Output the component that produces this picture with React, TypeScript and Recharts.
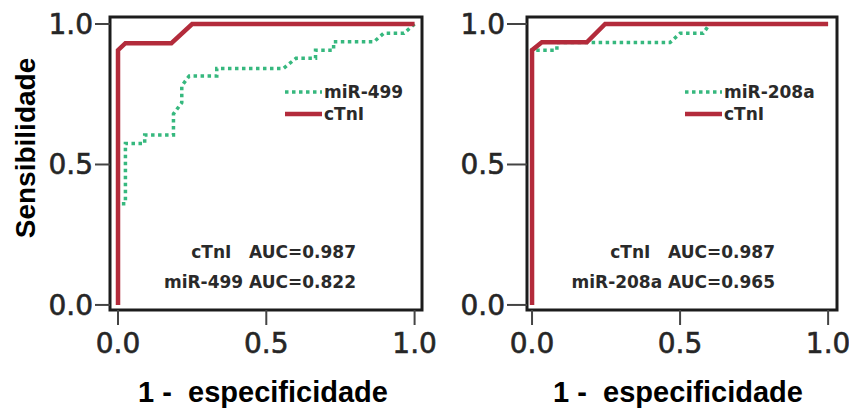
import React from "react";
import { LineChart, Line, XAxis, YAxis, ReferenceArea } from "recharts";

// ---- data ----
const tickValues = [0, 0.5, 1];

const leftCtniFpr = [0, 0, 0.025, 0.18, 0.25, 1];
const leftCtniTpr = [0, 0.907, 0.932, 0.932, 1, 1];

const mir499Fpr = [0, 0, 0.025, 0.025, 0.09, 0.09, 0.187, 0.187, 0.215, 0.215, 0.24, 0.333, 0.333, 0.558, 0.6, 0.666, 0.666, 0.727, 0.727, 0.863, 0.896, 0.964, 1];
const mir499Tpr = [0, 0.36, 0.36, 0.575, 0.575, 0.605, 0.605, 0.68, 0.72, 0.78, 0.815, 0.815, 0.842, 0.842, 0.878, 0.878, 0.907, 0.907, 0.937, 0.937, 0.967, 0.967, 1];

const rightCtniFpr = [0, 0, 0.033, 0.185, 0.247, 1];
const rightCtniTpr = [0, 0.907, 0.935, 0.935, 1, 1];

const mir208aFpr = [0, 0, 0.084, 0.084, 0.466, 0.5, 0.578, 0.6, 1];
const mir208aTpr = [0, 0.907, 0.907, 0.934, 0.934, 0.967, 0.967, 1, 1];

const leftAucLines = ["cTnI   AUC=0.987", "miR-499 AUC=0.822"];
const rightAucLines = ["cTnI   AUC=0.987", "miR-208a AUC=0.965"];

const toPoints = (xs: number[], ys: number[]) => xs.map((x, i) => ({ x, y: ys[i] }));

const RED = "#b32b3b";
const GREEN = "#36b87e";
const FONT_TICK = "'DejaVu Sans', Verdana, sans-serif";
const FONT_LABEL = "'Liberation Sans', Arial, Helvetica, sans-serif";

type PanelProps = {
  left: number;
  width: number;
  yAxisWidth: number;
  marginRight: number;
  xDomain: [number, number];
  yDomain: [number, number];
  yTickSize: number;
  mirData: { x: number; y: number }[];
  ctniData: { x: number; y: number }[];
};

function RocPanel(p: PanelProps) {
  const tickStyle = {
    fontSize: 28,
    fontFamily: FONT_TICK,
    fill: "#262626",
    stroke: "#262626",
    strokeWidth: 0.6,
  };
  return (
    <div style={{ position: "absolute", left: p.left, top: 0 }}>
      <LineChart
        width={p.width}
        height={410}
        margin={{ top: 17, right: p.marginRight, bottom: 40, left: 0 }}
      >
        <XAxis
          type="number"
          dataKey="x"
          domain={p.xDomain}
          allowDataOverflow
          ticks={tickValues}
          interval={0}
          tickFormatter={(v: number) => v.toFixed(1)}
          axisLine={false}
          tickLine={{ stroke: "#444", strokeWidth: 2 }}
          tickSize={15}
          tickMargin={8}
          height={60}
          tick={tickStyle}
        />
        <YAxis
          type="number"
          domain={p.yDomain}
          allowDataOverflow
          ticks={tickValues}
          interval={0}
          tickFormatter={(v: number) => v.toFixed(1)}
          axisLine={false}
          tickLine={{ stroke: "#444", strokeWidth: 2 }}
          tickSize={p.yTickSize}
          tickMargin={2}
          width={p.yAxisWidth}
          tick={tickStyle}
        />
        <ReferenceArea
          x1={p.xDomain[0]}
          x2={p.xDomain[1]}
          y1={p.yDomain[0]}
          y2={p.yDomain[1]}
          fill="none"
          stroke="#1c1c1c"
          strokeWidth={3}
          ifOverflow="visible"
        />
        <Line
          data={p.mirData}
          dataKey="y"
          type="linear"
          stroke={GREEN}
          strokeWidth={3.5}
          strokeDasharray="3.5 3.5"
          dot={false}
          activeDot={false}
          isAnimationActive={false}
        />
        <Line
          data={p.ctniData}
          dataKey="y"
          type="linear"
          stroke={RED}
          strokeWidth={4.5}
          dot={false}
          activeDot={false}
          isAnimationActive={false}
        />
      </LineChart>
    </div>
  );
}

function Legend({ x, mirName }: { x: number; mirName: string }) {
  const txt = { fontFamily: FONT_TICK, fontWeight: 700, fontSize: 17, fill: "#2a2a2a" } as const;
  return (
    <g>
      <line x1={x} x2={x + 37} y1={92} y2={92} stroke={GREEN} strokeWidth={3.5} strokeDasharray="3.5 3.5" />
      <text x={x + 39} y={98} {...txt}>{mirName}</text>
      <line x1={x} x2={x + 37} y1={114} y2={114} stroke={RED} strokeWidth={4.5} />
      <text x={x + 39} y={120} {...txt}>cTnI</text>
    </g>
  );
}

function AucText({ right, lines }: { right: number; lines: string[] }) {
  const txt = {
    fontFamily: FONT_TICK,
    fontWeight: 700,
    fontSize: 17,
    fill: "#2a2a2a",
    textAnchor: "end" as const,
    style: { whiteSpace: "pre" as const },
  };
  return (
    <g>
      <text x={right} y={258} {...txt}>{lines[0]}</text>
      <text x={right} y={288} {...txt}>{lines[1]}</text>
    </g>
  );
}

export default function App() {
  const labelStyle = {
    fontFamily: FONT_LABEL,
    fontWeight: 700,
    fill: "#000",
    style: { whiteSpace: "pre" as const },
  };
  return (
    <div style={{ position: "absolute", left: 0, top: 0, width: 849, height: 410, background: "#fff", overflow: "hidden" }}>
      <RocPanel
        left={0}
        width={445}
        yAxisWidth={110}
        marginRight={23}
        xDomain={[-0.027, 1.025]}
        yDomain={[-0.018, 1.025]}
        yTickSize={15}
        mirData={toPoints(mir499Fpr, mir499Tpr)}
        ctniData={toPoints(leftCtniFpr, leftCtniTpr)}
      />
      <RocPanel
        left={420}
        width={429}
        yAxisWidth={107}
        marginRight={12}
        xDomain={[-0.017, 1.03]}
        yDomain={[-0.018, 1.025]}
        yTickSize={20}
        mirData={toPoints(mir208aFpr, mir208aTpr)}
        ctniData={toPoints(rightCtniFpr, rightCtniTpr)}
      />
      <svg width={849} height={410} style={{ position: "absolute", left: 0, top: 0, pointerEvents: "none" }}>
        <text transform="translate(35,148) rotate(-90)" textAnchor="middle" fontSize={28} {...labelStyle}>
          Sensibilidade
        </text>
        <text x={263} y={402} textAnchor="middle" fontSize={29} {...labelStyle}>1 -  especificidade</text>
        <text x={678} y={402} textAnchor="middle" fontSize={29} {...labelStyle}>1 -  especificidade</text>
        <Legend x={285} mirName="miR-499" />
        <Legend x={685} mirName="miR-208a" />
        <AucText right={356} lines={leftAucLines} />
        <AucText right={775} lines={rightAucLines} />
      </svg>
    </div>
  );
}
